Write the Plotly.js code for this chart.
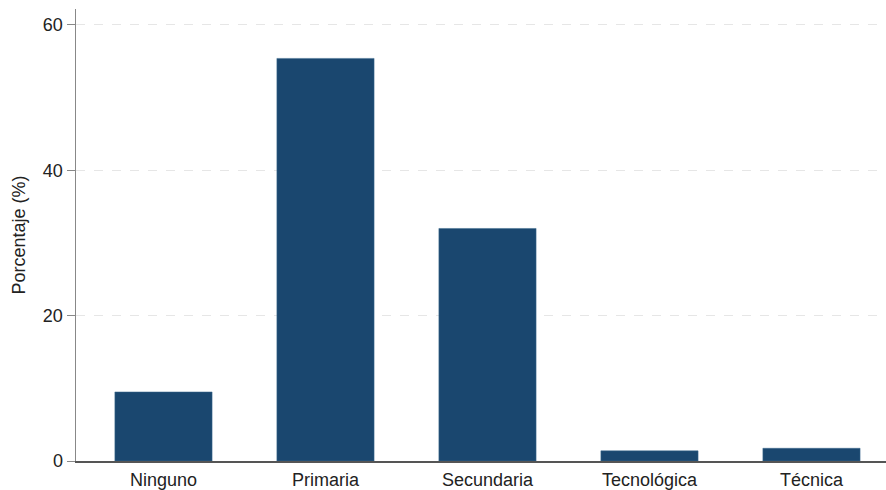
<!DOCTYPE html>
<html><head><meta charset="utf-8">
<script src="https://cdn.plot.ly/plotly-3.0.1.min.js"></script>
<style>html,body{margin:0;padding:0;background:#fff}#chart{width:886px;height:490px}</style>
</head><body><div id="chart"></div>
<script>
const categories = ["Ninguno", "Primaria", "Secundaria", "Tecnológica", "Técnica"];
const values = [9.5, 55.4, 32.0, 1.4, 1.75];
const yTicks = [0, 20, 40, 60];

Plotly.newPlot("chart", [{
  type: "bar",
  x: categories,
  y: values,
  width: 0.6,
  marker: {color: "#1a476f", line: {color: "#3d6a8f", width: 0.5}},
  hoverinfo: "x+y"
}], {
  width: 886, height: 490,
  margin: {l: 76, r: 0, t: 9, b: 29},
  paper_bgcolor: "#fff", plot_bgcolor: "#fff",
  font: {family: "Liberation Sans, Arial, sans-serif", size: 18, color: "#222"},
  showlegend: false,
  xaxis: {
    range: [-0.54, 4.46],
    showline: true, linecolor: "#555", linewidth: 1.5,
    ticks: "", showgrid: false, zeroline: false,
    ticklabelstandoff: 2,
    tickfont: {size: 18, color: "#222"}
  },
  yaxis: {
    range: [0, 62.2],
    tickvals: yTicks,
    showline: true, linecolor: "#888", linewidth: 1.5,
    ticks: "outside", ticklen: 8, tickcolor: "#888",
    showgrid: true, gridcolor: "#e6e6e6", griddash: "dash", gridwidth: 1,
    zeroline: false,
    tickfont: {size: 18, color: "#222"},
    title: {text: "Porcentaje (%)", font: {size: 18, color: "#222"}, standoff: 12}
  }
}, {displayModeBar: false, staticPlot: true});
</script></body></html>
